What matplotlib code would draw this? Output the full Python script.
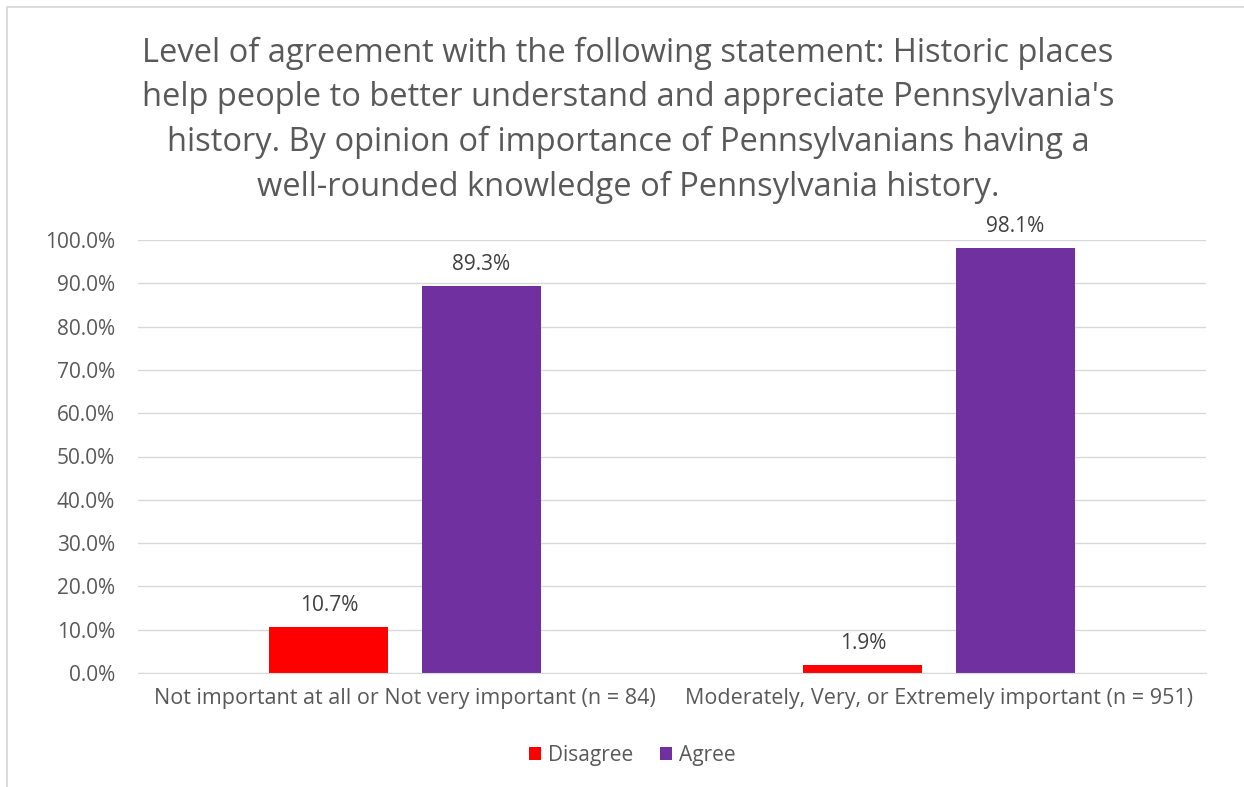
import matplotlib
matplotlib.use("Agg")
import matplotlib.pyplot as plt
import numpy as np
from matplotlib.patches import Rectangle

categories = ["Not important at all or Not very important (n = 84)",
              "Moderately, Very, or Extremely important (n = 951)"]
disagree = [10.7, 1.9]
agree = [89.3, 98.1]
series_names = ["Disagree", "Agree"]
colors = ["#FF0000", "#7030A0"]
title = ("Level of agreement with the following statement: Historic places\n"
         "help people to better understand and appreciate Pennsylvania's\n"
         "history. By opinion of importance of Pennsylvanians having a\n"
         "well-rounded knowledge of Pennsylvania history.")

plt.rcParams['font.family'] = ['Open Sans', 'DejaVu Sans']
txt = "#595959"

W, H = 1244, 787
fig = plt.figure(figsize=(W/100, H/100), dpi=100)
fig.patches.append(Rectangle((7/W, -0.01), 1.2, 1 - 7/H + 0.01, transform=fig.transFigure,
                             fill=False, edgecolor="#D9D9D9", linewidth=1.3))

left, right, top, bottom = 138, 1206, 240, 673
ax = fig.add_axes([left/W, 1 - bottom/H, (right-left)/W, (bottom-top)/H])

x = np.arange(len(categories))
bw = 0.223
off = 0.1425
b1 = ax.bar(x - off, disagree, bw, color=colors[0], label=series_names[0])
b2 = ax.bar(x + off, agree, bw, color=colors[1], label=series_names[1])
for bars, vals in ((b1, disagree), (b2, agree)):
    for r, v in zip(bars, vals):
        ax.annotate(f"{v:.1f}%", (r.get_x() + r.get_width()/2, v), xytext=(0, 8),
                    textcoords="offset points", ha="center", va="bottom",
                    fontsize=15, color="#404040")

ax.set_xlim(-0.5, 1.5)
ax.set_ylim(0, 100)
ax.set_yticks(np.arange(0, 101, 10))
ax.set_yticklabels([f"{v:.1f}%" for v in range(0, 101, 10)], fontsize=15, color=txt)
ax.set_xticks(x)
ax.set_xticklabels(categories, fontsize=15.5, color=txt)
ax.tick_params(axis='both', length=0)
ax.tick_params(axis='y', pad=16.5)
ax.tick_params(axis='x', pad=11)
ax.grid(axis='y', color="#D9D9D9", linewidth=1)
ax.set_axisbelow(True)
for s in ["top", "right", "left"]:
    ax.spines[s].set_visible(False)
ax.spines["bottom"].set_color("#D9D9D9")

fig.text(628/W, 1 - 37/H, title, ha="center", va="top", fontsize=23.5, color=txt,
         linespacing=1.45)

leg = fig.legend(loc="center", bbox_to_anchor=(632/W, 1 - 755/H), ncol=2, frameon=False,
                 fontsize=15, handlelength=0.6, handleheight=0.6, columnspacing=1.3,
                 handletextpad=0.3)
for t in leg.get_texts():
    t.set_color(txt)

fig.savefig("out.png", dpi=100)
